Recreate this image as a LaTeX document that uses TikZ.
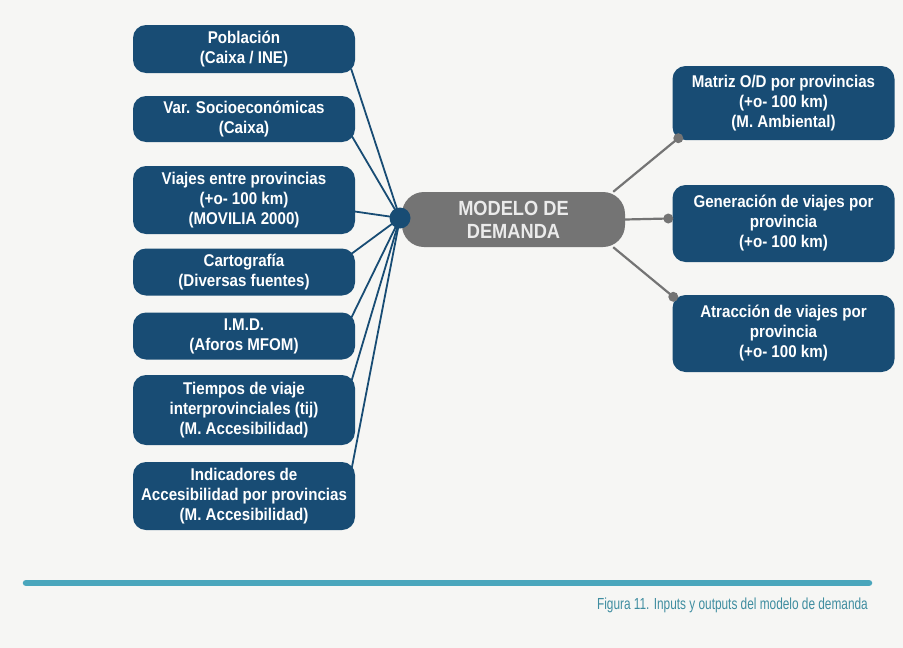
\documentclass[tikz,border=0pt]{standalone}
\usepackage{fontspec}
\setmainfont{Liberation Sans}
\newfontfamily\boxfont[FakeStretch=0.89]{Liberation Sans}
\newfontfamily\capfont[FakeStretch=0.74]{Liberation Sans}
\usetikzlibrary{backgrounds}

\definecolor{navy}{HTML}{184C74}
\definecolor{modgray}{HTML}{747474}
\definecolor{capteal}{HTML}{4AA6BC}
\definecolor{paper}{HTML}{F6F6F4}

\tikzset{
  inbox/.style={fill=navy, rounded corners=13pt, text=white, align=center,
    font=\boxfont\bfseries\fontsize{17}{20}\selectfont,
    minimum width=222pt, inner sep=2pt},
  link/.style={navy, line width=1.8pt},
  glink/.style={modgray, line width=2.2pt},
  gdot/.style={circle, fill=modgray, inner sep=0pt, minimum size=10pt},
}

\begin{document}
\begin{tikzpicture}[x=1pt,y=-1pt]
  \useasboundingbox (0,0) rectangle (903,648);

  % entradas
  \node[inbox, minimum height=48pt] (pob) at (244,49) {Población\\(Caixa / INE)};
  \node[inbox, minimum height=46pt] (socio) at (244,119) {Var. Socioeconómicas\\(Caixa)};
  \node[inbox, minimum height=68pt] (viajes) at (244,200) {Viajes entre provincias\\(+o- 100 km)\\(MOVILIA 2000)};
  \node[inbox, minimum height=47pt] (carto) at (244,272) {Cartografía\\(Diversas fuentes)};
  \node[inbox, minimum height=47pt] (imd) at (244,336) {I.M.D.\\(Aforos MFOM)};
  \node[inbox, minimum height=70pt] (tiempos) at (244,410) {Tiempos de viaje\\interprovinciales (tij)\\(M. Accesibilidad)};
  \node[inbox, minimum height=68pt] (indic) at (244,496) {Indicadores de\\Accesibilidad por provincias\\(M. Accesibilidad)};

  % modelo
  \node[fill=modgray, rounded corners=22pt, minimum width=223pt, minimum height=55pt,
    text=white!92!black, align=center, font=\boxfont\bfseries\fontsize{20.5}{23}\selectfont] (modelo) at (513.5,219.5) {MODELO DE\\DEMANDA};
  \node[circle, fill=navy, minimum size=21pt, inner sep=0pt] (hub) at (400,218) {};

  % salidas
  \node[inbox, minimum height=74pt] (matriz) at (783.5,103) {Matriz O/D por provincias\\(+o- 100 km)\\(M. Ambiental)};
  \node[inbox, minimum height=77pt] (gener) at (783.5,223.5) {Generación de viajes por\\provincia\\(+o- 100 km)};
  \node[inbox, minimum height=77pt] (atrac) at (783.5,333.5) {Atracción de viajes por\\provincia\\(+o- 100 km)};
  \node[gdot] (dmatriz) at ([xshift=6pt,yshift=2pt]matriz.south west) {};
  \node[gdot] (dgener) at ([xshift=-4pt,yshift=5pt]gener.west) {};
  \node[gdot] (datrac) at ([xshift=1pt,yshift=-2pt]atrac.north west) {};

  \begin{scope}[on background layer]
    \fill[paper] (0,0) rectangle (903,648);
    \foreach \b/\dy in {pob/-20, socio/-16, viajes/-11, carto/18, imd/18, tiempos/28, indic/25}
      \draw[link] (hub.center) -- ([xshift=-4pt,yshift=\dy]\b.east);
    \draw[glink] ([xshift=-12pt]modelo.north east) -- (dmatriz.center);
    \draw[glink] (modelo.east) -- (dgener.center);
    \draw[glink] ([xshift=-12pt]modelo.south east) -- (datrac.center);
  \end{scope}

  % pie
  \draw[capteal, line width=6.5pt, line cap=round] (26,583) -- (869,583);
  \node[anchor=east, inner sep=0pt, text=capteal!85!black,
    font=\capfont\fontsize{16}{18}\selectfont] (caption) at (868,605) {Figura 11. Inputs y outputs del modelo de demanda};
\end{tikzpicture}
\end{document}
